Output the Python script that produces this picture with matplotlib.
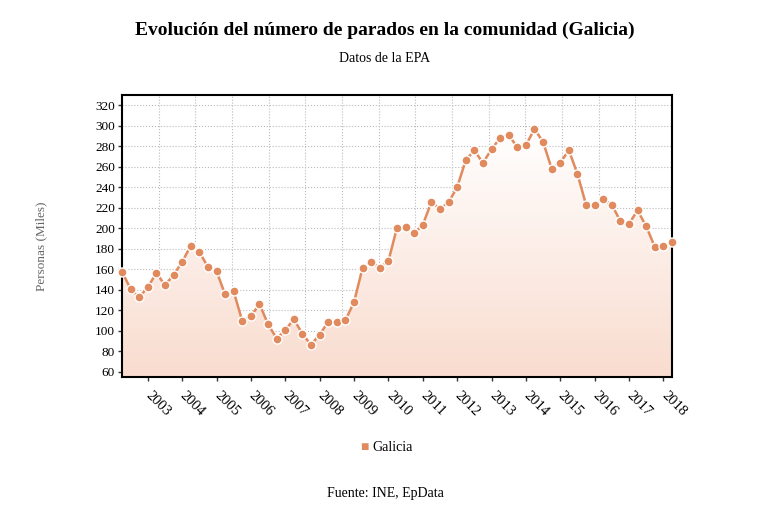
import numpy as np
import matplotlib
matplotlib.use("Agg")
import matplotlib.pyplot as plt
from matplotlib.colors import LinearSegmentedColormap

# ------------------------------------------------------------
# Paro EPA en Galicia (miles de personas), datos trimestrales
# desde 2002 T2 hasta 2018 T2
# ------------------------------------------------------------

# --- Data ---
series_name = "Galicia"
parados = [
    157.6, 141.0, 132.9, 142.3, 156.6, 144.6, 154.4, 167.1,
    183.0, 177.1, 162.2, 158.3, 135.5, 138.4, 109.5, 114.3,
    126.1, 106.5, 92.5, 100.7, 111.4, 97.1, 86.4, 96.4,
    108.8, 108.8, 110.4, 128.0, 161.5, 167.1, 161.5, 168.0,
    200.6, 201.6, 195.0, 203.2, 225.6, 219.1, 225.3, 240.0,
    266.3, 276.1, 263.7, 277.1, 288.1, 290.7, 279.3, 281.0,
    296.9, 284.2, 258.2, 264.0, 276.1, 253.0, 223.0, 223.0,
    228.2, 223.0, 206.8, 204.5, 217.5, 201.9, 182.0, 182.4,
    186.6,
]
year_labels = [str(y) for y in range(2003, 2019)]
first_year_idx = 3  # 2003 T1 is the 4th point
y_ticks = list(range(60, 321, 20))

title = "Evolución del número de parados en la comunidad (Galicia)"
subtitle = "Datos de la EPA"
y_label = "Personas (Miles)"
source = "Fuente: INE, EpData"

# --- Style ---
plt.rcParams["font.family"] = ["Liberation Serif", "DejaVu Serif"]
line_color = "#E08A5E"
fill_color = "#F9DCCF"

x = np.arange(len(parados))
y = np.array(parados)

fig = plt.figure(figsize=(7.7, 5.19), dpi=100)
ax = fig.add_axes([0.1584, 0.2736, 0.7143, 0.5434])

ax.set_xlim(0, len(parados) - 1)
ax.set_ylim(55, 330)

# --- Gradient area under the line ---
cmap = LinearSegmentedColormap.from_list("fade", ["white", fill_color])
grad = np.linspace(0, 1, 256).reshape(-1, 1)
img = ax.imshow(grad, cmap=cmap, aspect="auto", origin="upper",
                extent=[0, len(parados) - 1, 55, y.max()], zorder=1)
poly = ax.fill_between(x, y, 55, color="none", lw=0)
img.set_clip_path(poly.get_paths()[0], transform=ax.transData)

# --- Line + markers ---
ax.plot(x, y, color=line_color, lw=1.8, zorder=3)
ax.plot(x, y, ls="none", marker="o", ms=6.5, mfc=line_color,
        mec="white", mew=1.0, zorder=6, clip_on=False)

# --- Axes, ticks, grid ---
year_pos = [first_year_idx + 4 * i for i in range(len(year_labels))]
ax.set_xticks(year_pos)
ax.set_xticklabels(year_labels, rotation=-45, ha="left", va="center",
                   rotation_mode="anchor", fontsize=10.5)
ax.set_xticks(np.linspace(0, len(parados) - 1, 16), minor=True)
ax.set_yticks(y_ticks)
ax.set_yticklabels([str(v) for v in y_ticks], fontsize=9.5)
ax.tick_params(axis="both", which="major", direction="out", length=3,
               width=1, color="#333333", pad=2)
ax.tick_params(axis="x", which="major", pad=9)
ax.tick_params(axis="x", which="minor", length=0)

ax.grid(axis="y", which="major", ls=":", color="#bbbbbb", lw=0.8, zorder=0)
ax.grid(axis="x", which="minor", ls=":", color="#bbbbbb", lw=0.8, zorder=0)
ax.set_axisbelow(True)

for s in ax.spines.values():
    s.set_linewidth(1.5)
    s.set_color("black")
    s.set_zorder(5)

# --- Texts ---
fig.text(0.5, 0.942, title, ha="center", va="center", fontsize=14,
         fontweight="bold")
fig.text(0.5, 0.888, subtitle, ha="center", va="center", fontsize=10)
fig.text(0.054, 0.526, y_label, ha="center", va="center", rotation=90,
         fontsize=9.5, color="#666666")
fig.text(0.5, 0.05, source, ha="center", va="center", fontsize=10)

# legend: square marker + name
fig.text(0.473, 0.138, "\u25A0", ha="center", va="center", fontsize=10,
         color=line_color)
fig.text(0.484, 0.138, series_name, ha="left", va="center", fontsize=10)

fig.savefig("out.png", dpi=100)
plt.close(fig)
